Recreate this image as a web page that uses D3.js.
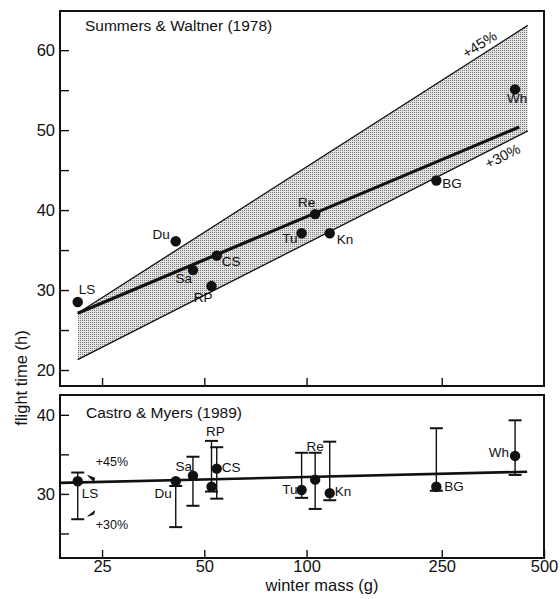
<!DOCTYPE html>
<html>
<head>
<meta charset="utf-8">
<script src="https://cdn.jsdelivr.net/npm/d3@7"></script>
<style>
  body { margin: 0; background: #fff; }
  text { font-family: "Liberation Sans", Arial, sans-serif; fill: #111; }
</style>
</head>
<body>
<div id="chart"></div>
<script>
// data
const species = ["LS", "Du", "Sa", "RP", "CS", "Tu", "Re", "Kn", "BG", "Wh"];
const mass = [21.2, 41.2, 46.3, 52.5, 54.4, 96.7, 106, 117, 241, 411];
// Summers & Waltner (1978)
const timeSW = [28.5, 36.1, 32.5, 30.5, 34.3, 37.1, 39.5, 37.1, 43.7, 55.1];
// Castro & Myers (1989), mean and range
const timeCM = [31.6, 31.6, 32.3, 30.9, 33.2, 30.5, 31.8, 30.1, 30.9, 34.8];
const cmLow = [26.8, 25.8, 28.5, 30.3, 29.4, 29.5, 28.1, 29.2, 30.4, 32.4];
const cmHigh = [32.7, 31.0, 34.7, 36.7, 35.9, 35.2, 35.2, 36.6, 38.3, 39.3];

// fitted line and +30% / +45% band (top), fit (bottom)
const fitMass = [21.2, 423];
const fitTime = [27.1, 50.4];
const bandMass = [21.2, 448];
const band45 = [27.1, 63.1];
const band30 = [21.3, 49.9];
const cmFitMass = [18.8, 446];
const cmFitTime = [31.4, 32.8];

const xTicks = [25, 50, 100, 250, 500];
const yTopTicks = [20, 25, 30, 35, 40, 45, 50, 55, 60];
const yBotTicks = [25, 30, 35, 40];

// label placement [dx, dy, anchor]
const labTop = {
  LS: [1, -8, "start"], Du: [-6, -2, "end"], Sa: [-1, 13, "end"], RP: [1, 16, "end"],
  CS: [5, 10, "start"], Re: [0, -7, "end"], Tu: [-4, 10, "end"], Kn: [7, 11, "start"],
  BG: [6, 7, "start"], Wh: [2, 14, "middle"]
};
const labBot = {
  LS: [4, 17, "start"], Du: [-4, 17, "end"], Sa: [-1, -5, "end"], RP: [4, -51, "middle"],
  CS: [5, 3, "start"], Tu: [-4, 4, "end"], Re: [0, -29, "middle"], Kn: [5, 3, "start"],
  BG: [8, 4, "start"], Wh: [-6, 1, "end"]
};

const width = 560, height = 599;
const left = 60, right = 544;
const top1 = 11, bot1 = 386, top2 = 395, bot2 = 558;

const svg = d3.select("#chart").append("svg")
  .attr("width", width).attr("height", height);

// stipple for the band
const pat = svg.append("defs").append("pattern")
  .attr("id", "stip").attr("patternUnits", "userSpaceOnUse")
  .attr("width", 2).attr("height", 2);
pat.append("rect").attr("width", 2).attr("height", 2).attr("fill", "#e2e2e2");
pat.append("rect").attr("width", 1).attr("height", 1).attr("fill", "#7a7a7a");

const x = d3.scaleLog().domain([18.8, 500]).range([left, right]);
const yTop = d3.scaleLinear().domain([18, 64.9]).range([bot1, top1]);
const yBot = d3.scaleLinear().domain([21.9, 42.5]).range([bot2, top2]);

const rows = species.map((s, i) => ({
  s, m: mass[i], sw: timeSW[i], cm: timeCM[i], lo: cmLow[i], hi: cmHigh[i]
}));

// ---------- top panel ----------
const bandData = bandMass.map((m, i) => ({ m, lo: band30[i], hi: band45[i] }));
svg.append("path")
  .datum(bandData)
  .attr("fill", "url(#stip)")
  .attr("d", d3.area().x(d => x(d.m)).y0(d => yTop(d.lo)).y1(d => yTop(d.hi)));

const edge = (key) => d3.line().x(d => x(d.m)).y(d => yTop(d[key]));
svg.append("path").datum(bandData).attr("fill", "none").attr("stroke", "#111")
  .attr("stroke-width", 1.3).attr("d", edge("hi"));
svg.append("path").datum(bandData).attr("fill", "none").attr("stroke", "#111")
  .attr("stroke-width", 1.3).attr("d", edge("lo"));

svg.append("path")
  .datum(fitMass.map((m, i) => ({ m, t: fitTime[i] })))
  .attr("fill", "none").attr("stroke", "#111").attr("stroke-width", 3.2)
  .attr("d", d3.line().x(d => x(d.m)).y(d => yTop(d.t)));

// band labels, rotated along the edges
function bandLabel(txt, key, mAt, off) {
  const p0 = [x(bandMass[0]), yTop(bandData[0][key])];
  const p1 = [x(bandMass[1]), yTop(bandData[1][key])];
  const ang = Math.atan2(p1[1] - p0[1], p1[0] - p0[0]) * 180 / Math.PI;
  const t = (x(mAt) - p0[0]) / (p1[0] - p0[0]);
  const px = p0[0] + t * (p1[0] - p0[0]), py = p0[1] + t * (p1[1] - p0[1]);
  svg.append("text")
    .attr("transform", `translate(${px},${py}) rotate(${ang})`)
    .attr("dy", off).attr("text-anchor", "middle")
    .attr("font-size", 14.5).text(txt);
}
bandLabel("+45%", "hi", 335, -5);
bandLabel("+30%", "lo", 365, 16);

svg.selectAll(".ptTop").data(rows).join("circle")
  .attr("class", "ptTop")
  .attr("cx", d => x(d.m)).attr("cy", d => yTop(d.sw)).attr("r", 5.2).attr("fill", "#111");

svg.selectAll(".labTop").data(rows).join("text")
  .attr("class", "labTop")
  .attr("x", d => x(d.m) + labTop[d.s][0])
  .attr("y", d => yTop(d.sw) + labTop[d.s][1])
  .attr("text-anchor", d => labTop[d.s][2])
  .attr("font-size", 13.5).text(d => d.s);

svg.append("text").attr("x", 85).attr("y", 31).attr("font-size", 15.5)
  .text("Summers & Waltner (1978)");

// ---------- bottom panel ----------
svg.append("path")
  .datum(cmFitMass.map((m, i) => ({ m, t: cmFitTime[i] })))
  .attr("fill", "none").attr("stroke", "#111").attr("stroke-width", 2.6)
  .attr("d", d3.line().x(d => x(d.m)).y(d => yBot(d.t)));

const eb = svg.selectAll(".eb").data(rows).join("g").attr("class", "eb")
  .attr("stroke", "#111").attr("stroke-width", 1.4);
eb.append("line")
  .attr("x1", d => x(d.m)).attr("x2", d => x(d.m))
  .attr("y1", d => yBot(d.lo)).attr("y2", d => yBot(d.hi));
eb.append("line")
  .attr("x1", d => x(d.m) - 6.5).attr("x2", d => x(d.m) + 6.5)
  .attr("y1", d => yBot(d.lo)).attr("y2", d => yBot(d.lo)).attr("stroke-width", 2);
eb.append("line")
  .attr("x1", d => x(d.m) - 6.5).attr("x2", d => x(d.m) + 6.5)
  .attr("y1", d => yBot(d.hi)).attr("y2", d => yBot(d.hi)).attr("stroke-width", 2);

svg.selectAll(".ptBot").data(rows).join("circle")
  .attr("class", "ptBot")
  .attr("cx", d => x(d.m)).attr("cy", d => yBot(d.cm)).attr("r", 5.2).attr("fill", "#111");

svg.selectAll(".labBot").data(rows).join("text")
  .attr("class", "labBot")
  .attr("x", d => x(d.m) + labBot[d.s][0])
  .attr("y", d => yBot(d.cm) + labBot[d.s][1])
  .attr("text-anchor", d => labBot[d.s][2])
  .attr("font-size", 13.5).text(d => d.s);

svg.append("text").attr("x", 86).attr("y", 418).attr("font-size", 15.5)
  .text("Castro & Myers (1989)");

// +45% / +30% pointers on the LS bar
const lsX = x(mass[0]);
[[cmHigh[0], -5, "+45%", -1], [cmLow[0], 12, "+30%", 1]].forEach(([v, dy, txt, dir]) => {
  const ty = yBot(v);
  const tipX = lsX + 10, tipY = ty - 3 * dir;
  svg.append("path")
    .attr("d", `M${tipX},${tipY} L${tipX + 7},${tipY - 4 * dir - 1.5} L${tipX + 6},${tipY - 4 * dir + 2} Z`)
    .attr("fill", "#111").attr("stroke", "#111").attr("stroke-width", 0.8);
  svg.append("text").attr("x", lsX + 18).attr("y", ty + dy - 2)
    .attr("font-size", 12.5).text(txt);
});

// ---------- frames and axes ----------
[[top1, bot1], [top2, bot2]].forEach(([t, b]) => {
  svg.append("rect").attr("x", left).attr("y", t)
    .attr("width", right - left).attr("height", b - t)
    .attr("fill", "none").attr("stroke", "#111").attr("stroke-width", 2);
});

function styleAxis(g) {
  g.select(".domain").remove();
  g.selectAll(".tick line").attr("stroke", "#111").attr("stroke-width", 1.4);
  g.selectAll(".tick text").attr("font-size", 16.5)
    .attr("font-family", "'Liberation Sans', Arial, sans-serif").attr("fill", "#111");
}

svg.append("g").attr("transform", `translate(${left},0)`)
  .call(d3.axisLeft(yTop).tickValues(yTopTicks).tickSize(-9).tickPadding(5)
    .tickFormat(d => d % 10 === 0 ? d : ""))
  .call(styleAxis);

svg.append("g").attr("transform", `translate(${left},0)`)
  .call(d3.axisLeft(yBot).tickValues(yBotTicks).tickSize(-9).tickPadding(5)
    .tickFormat(d => d % 10 === 0 ? d : ""))
  .call(styleAxis);

svg.append("g").attr("transform", `translate(0,${bot1})`)
  .call(d3.axisBottom(x).tickValues(xTicks.slice(0, 4)).tickSize(-8).tickFormat(""))
  .call(styleAxis);

svg.append("g").attr("transform", `translate(0,${bot2})`)
  .call(d3.axisBottom(x).tickValues(xTicks).tickSize(-8).tickPadding(2)
    .tickFormat(d3.format("d")))
  .call(styleAxis);

svg.append("text").attr("x", 322).attr("y", 591).attr("text-anchor", "middle")
  .attr("font-size", 16.5).text("winter mass (g)");

svg.append("text").attr("transform", "translate(27,378) rotate(-90)")
  .attr("text-anchor", "middle").attr("font-size", 16.5).text("flight time (h)");
</script>
</body>
</html>
